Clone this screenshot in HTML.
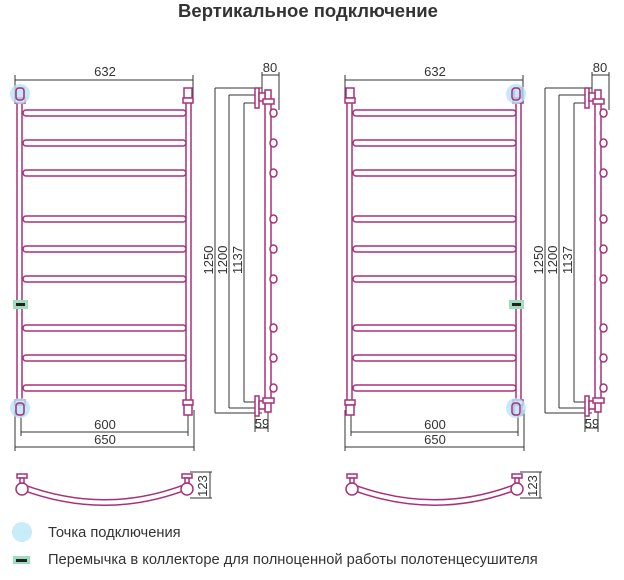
<!DOCTYPE html>
<html><head><meta charset="utf-8"><style>
body{margin:0;background:#fff}
svg{display:block}
text{font-family:"Liberation Sans",sans-serif;fill:#333}
</style></head><body>
<svg width="624" height="580" viewBox="0 0 624 580" xmlns="http://www.w3.org/2000/svg">
<defs>
<g id="u" fill="#fff" stroke="#a8307a" stroke-width="1.5">
  <rect x="17" y="100" width="5" height="308"/>
  <rect x="186" y="100" width="5" height="308"/>
  <g>
    <rect x="23" y="110" width="163" height="6" rx="3"/>
    <rect x="23" y="140" width="163" height="6" rx="3"/>
    <rect x="23" y="170" width="163" height="6" rx="3"/>
    <rect x="23" y="216" width="163" height="6" rx="3"/>
    <rect x="23" y="246" width="163" height="6" rx="3"/>
    <rect x="23" y="276" width="163" height="6" rx="3"/>
    <rect x="23" y="325" width="163" height="6" rx="3"/>
    <rect x="23" y="355" width="163" height="6" rx="3"/>
    <rect x="23" y="385" width="163" height="6" rx="3"/>
  </g>
  <rect x="16" y="88" width="8" height="10"/><rect x="15" y="98" width="10" height="5"/>
  <rect x="184" y="88" width="8" height="10"/><rect x="183" y="98" width="10" height="5"/>
  <rect x="15" y="400" width="10" height="5"/><rect x="16" y="405" width="8" height="10"/>
  <rect x="183" y="400" width="10" height="5"/><rect x="184" y="405" width="8" height="10"/>
  <rect x="265" y="90" width="6" height="322"/>
  <g>
    <rect x="270" y="109" width="7" height="8" rx="4"/>
    <rect x="270" y="139" width="7" height="8" rx="4"/>
    <rect x="270" y="169" width="7" height="8" rx="4"/>
    <rect x="270" y="215" width="7" height="8" rx="4"/>
    <rect x="270" y="245" width="7" height="8" rx="4"/>
    <rect x="270" y="275" width="7" height="8" rx="4"/>
    <rect x="270" y="324" width="7" height="8" rx="4"/>
    <rect x="270" y="354" width="7" height="8" rx="4"/>
    <rect x="270" y="384" width="7" height="8" rx="4"/>
  </g>
  <rect x="255" y="88" width="4" height="20"/><rect x="259" y="93" width="6" height="8"/><rect x="263" y="99" width="11" height="5"/>
  <rect x="255" y="396" width="4" height="20"/><rect x="259" y="401" width="6" height="8"/><rect x="263" y="398" width="11" height="5"/>
  <path d="M22 487 Q105 518 186 487" fill="none" stroke-width="7"/>
  <path d="M22 487 Q105 518 186 487" fill="none" stroke="#fff" stroke-width="4"/>
  <circle cx="22" cy="489" r="6"/><circle cx="187" cy="489" r="6"/>
  <rect x="17" y="474" width="10" height="4"/><rect x="20" y="478" width="4" height="5"/>
  <rect x="182" y="474" width="10" height="4"/><rect x="185" y="478" width="4" height="5"/>
</g>
<g id="d" stroke="#333" stroke-width="1" fill="none">
  <path d="M15 80H193M15 75V100M193 75V100"/>
  <path d="M21 432H188M21 410V436M188 410V436"/>
  <path d="M15 447H194M15 410V451M194 410V451"/>
  <path d="M215 88V413M215 88H262M215 413H262"/>
  <path d="M229 95V408M229 95H258M229 408H258"/>
  <path d="M244 103V402M244 103H258M244 402H258"/>
  <path d="M262 75H279M262 72V95M279 72V110"/>
  <path d="M255 428H268M255 412V432M268 412V432"/>
  <path d="M190 472H212M190 498H212M210 472V498"/>
</g>
</defs>
<text x="308" y="17" text-anchor="middle" font-size="18.5" font-weight="bold">Вертикальное подключение</text>

<use href="#d"/><use href="#u"/>
<use href="#d" transform="translate(330,0)"/><use href="#u" transform="translate(330,0)"/>

<circle cx="20" cy="94" r="10" fill="#b8e4f7" opacity="0.8"/>
<circle cx="20" cy="408" r="10" fill="#b8e4f7" opacity="0.8"/>
<circle cx="516" cy="94" r="10" fill="#b8e4f7" opacity="0.8"/>
<circle cx="516" cy="408" r="10" fill="#b8e4f7" opacity="0.8"/>
<g fill="none" stroke="#a8307a" stroke-width="1.5">
<rect x="16" y="88" width="8" height="12" rx="3"/><rect x="16" y="403" width="8" height="12" rx="3"/>
<rect x="512" y="88" width="8" height="12" rx="3"/><rect x="512" y="403" width="8" height="12" rx="3"/>
</g>
<rect x="13" y="300" width="15" height="9" fill="#9fdcbc"/><rect x="16" y="303" width="9" height="3" fill="#222"/>
<rect x="509" y="300" width="15" height="9" fill="#9fdcbc"/><rect x="512" y="303" width="9" height="3" fill="#222"/>

<g font-size="13">
<text x="105" y="76" text-anchor="middle">632</text>
<text x="435" y="76" text-anchor="middle">632</text>
<text x="270" y="72" text-anchor="middle">80</text>
<text x="600" y="72" text-anchor="middle">80</text>
<text x="105" y="429" text-anchor="middle">600</text>
<text x="435" y="429" text-anchor="middle">600</text>
<text x="105" y="444" text-anchor="middle">650</text>
<text x="435" y="444" text-anchor="middle">650</text>
<text x="262" y="428" text-anchor="middle">59</text>
<text x="592" y="428" text-anchor="middle">59</text>
<text transform="translate(213,260) rotate(-90)" text-anchor="middle">1250</text>
<text transform="translate(227,260) rotate(-90)" text-anchor="middle">1200</text>
<text transform="translate(242,260) rotate(-90)" text-anchor="middle">1137</text>
<text transform="translate(543,260) rotate(-90)" text-anchor="middle">1250</text>
<text transform="translate(557,260) rotate(-90)" text-anchor="middle">1200</text>
<text transform="translate(572,260) rotate(-90)" text-anchor="middle">1137</text>
<text transform="translate(207,486) rotate(-90)" text-anchor="middle">123</text>
<text transform="translate(537,486) rotate(-90)" text-anchor="middle">123</text>
</g>

<circle cx="22" cy="532" r="10" fill="#c8ecf8"/>
<text x="48" y="537" font-size="14.7">Точка подключения</text>
<rect x="13" y="556" width="17" height="8" fill="#9fdcbc"/><rect x="16" y="559" width="11" height="3" fill="#222"/>
<text x="48" y="564" font-size="14.7">Перемычка в коллекторе для полноценной работы полотенцесушителя</text>
</svg>
</body></html>
